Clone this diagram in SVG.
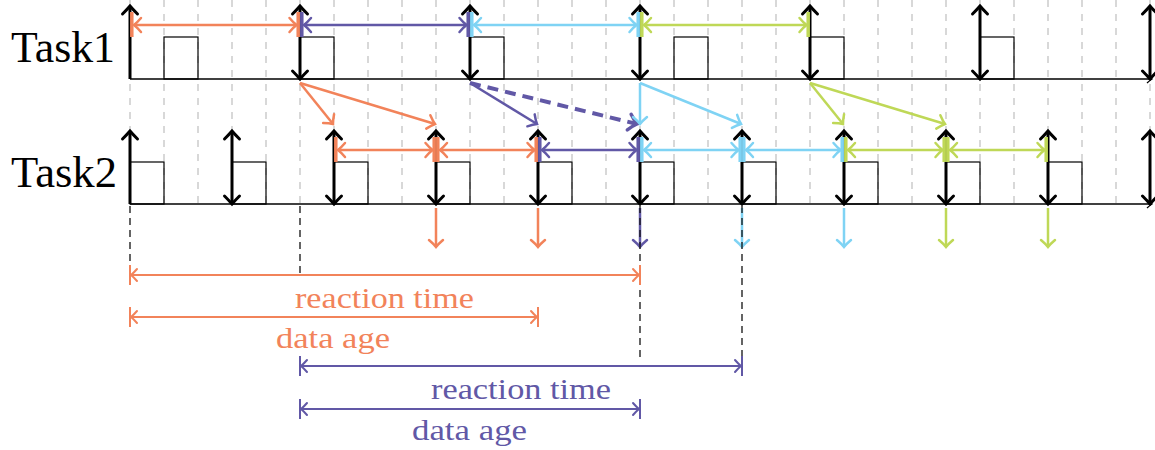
<svg xmlns="http://www.w3.org/2000/svg" width="1155" height="450" viewBox="0 0 1155 450">
  <defs>
    <style>
      .grid { stroke: #c4c4c4; stroke-width: 1.3; stroke-dasharray: 7 7; fill: none; }
      .box { fill: none; stroke: #000; stroke-width: 1.2; }
      .axis { stroke: #000; stroke-width: 1.3; fill: none; }
      .tick { stroke: #000; stroke-width: 3; fill: none; }
      .guide { stroke: #111; stroke-width: 1.3; stroke-dasharray: 7 5; fill: none; }
      .or { stroke: #f2835a; }
      .pu { stroke: #6158a6; }
      .cy { stroke: #7fd3f4; }
      .gr { stroke: #bfd857; }
      .flow { stroke-width: 2.5; fill: none; }
      .bar { stroke-width: 3.5; fill: none; }
      .dim { stroke-width: 2; fill: none; }
      .lbl { font-family: "Liberation Serif", "DejaVu Serif", serif; }
      .title { font-family: "Liberation Serif", "DejaVu Serif", serif; font-size: 44px; fill: #000; }
    </style>
    <marker id="hk" markerUnits="userSpaceOnUse" viewBox="-12 -12 16 24" markerWidth="16" markerHeight="24" refX="0" refY="0" orient="auto-start-reverse" overflow="visible">
      <path d="M-8,-7.5 Q-3,-2.5 0,0 Q-3,2.5 -8,7.5" fill="none" stroke="#000" stroke-width="3" stroke-linecap="round"/>
    </marker>
    <marker id="ha" markerUnits="userSpaceOnUse" viewBox="-12 -12 16 24" markerWidth="16" markerHeight="24" refX="0" refY="0" orient="auto-start-reverse" overflow="visible">
      <path d="M-5,-4 Q-2,-1.3 0,0 Q-2,1.3 -5,4" fill="none" stroke="#000" stroke-width="1.3"/>
    </marker>
    <marker id="ho" markerUnits="userSpaceOnUse" viewBox="-12 -12 16 24" markerWidth="16" markerHeight="24" refX="0" refY="0" orient="auto-start-reverse" overflow="visible">
      <path d="M-7,-7 Q-3,-2.3 0,0 Q-3,2.3 -7,7" fill="none" stroke="#f2835a" stroke-width="2.5" stroke-linecap="round"/>
    </marker>
    <marker id="hp" markerUnits="userSpaceOnUse" viewBox="-12 -12 16 24" markerWidth="16" markerHeight="24" refX="0" refY="0" orient="auto-start-reverse" overflow="visible">
      <path d="M-7,-7 Q-3,-2.3 0,0 Q-3,2.3 -7,7" fill="none" stroke="#6158a6" stroke-width="2.5" stroke-linecap="round"/>
    </marker>
    <marker id="hc" markerUnits="userSpaceOnUse" viewBox="-12 -12 16 24" markerWidth="16" markerHeight="24" refX="0" refY="0" orient="auto-start-reverse" overflow="visible">
      <path d="M-7,-7 Q-3,-2.3 0,0 Q-3,2.3 -7,7" fill="none" stroke="#7fd3f4" stroke-width="2.5" stroke-linecap="round"/>
    </marker>
    <marker id="hg" markerUnits="userSpaceOnUse" viewBox="-12 -12 16 24" markerWidth="16" markerHeight="24" refX="0" refY="0" orient="auto-start-reverse" overflow="visible">
      <path d="M-7,-7 Q-3,-2.3 0,0 Q-3,2.3 -7,7" fill="none" stroke="#bfd857" stroke-width="2.5" stroke-linecap="round"/>
    </marker>
    <marker id="hpd" markerUnits="userSpaceOnUse" viewBox="-12 -12 16 24" markerWidth="16" markerHeight="24" refX="0" refY="0" orient="auto" overflow="visible">
      <path d="M-8,-8 Q-3.5,-2.6 0,0 Q-3.5,2.6 -8,8" fill="none" stroke="#6158a6" stroke-width="3.5" stroke-linecap="round"/>
    </marker>
    <marker id="mo" markerUnits="userSpaceOnUse" viewBox="-12 -12 16 24" markerWidth="16" markerHeight="24" refX="0" refY="0" orient="auto-start-reverse" overflow="visible">
      <path d="M-6,-6 Q-2.5,-2 0,0 Q-2.5,2 -6,6" fill="none" stroke="#f2835a" stroke-width="2" stroke-linecap="round"/>
    </marker>
    <marker id="mp" markerUnits="userSpaceOnUse" viewBox="-12 -12 16 24" markerWidth="16" markerHeight="24" refX="0" refY="0" orient="auto-start-reverse" overflow="visible">
      <path d="M-6,-6 Q-2.5,-2 0,0 Q-2.5,2 -6,6" fill="none" stroke="#6158a6" stroke-width="2" stroke-linecap="round"/>
    </marker>
  </defs>

  <rect width="1155" height="450" fill="#fff"/>

  <!-- time grid, one line every 34 px -->
  <path class="grid" d="M130,0V204 M164,0V204 M198,0V204 M232,0V204 M266,0V204 M300,0V204 M334,0V204 M368,0V204 M402,0V204 M436,0V204 M470,0V204 M504,0V204 M538,0V204 M572,0V204 M606,0V204 M640,0V204 M674,0V204 M708,0V204 M742,0V204 M776,0V204 M810,0V204 M844,0V204 M878,0V204 M912,0V204 M946,0V204 M980,0V204 M1014,0V204 M1048,0V204 M1082,0V204 M1116,0V204 M1150,0V204"/>

  <!-- Task1: period 170, execution 34 -->
  <g id="task1">
    <text class="title" x="11" y="62" textLength="104" lengthAdjust="spacingAndGlyphs">Task1</text>
    <line class="axis" x1="130" y1="79" x2="1152" y2="79" marker-end="url(#ha)"/>
    <rect class="box" x="164" y="37" width="34" height="42"/>
    <rect class="box" x="300" y="37" width="34" height="42"/>
    <rect class="box" x="470" y="37" width="34" height="42"/>
    <rect class="box" x="674" y="37" width="34" height="42"/>
    <rect class="box" x="810" y="37" width="34" height="42"/>
    <rect class="box" x="980" y="37" width="34" height="42"/>
    <line class="tick" x1="130" y1="79" x2="130" y2="6" marker-end="url(#hk)"/>
    <line class="tick" x1="300" y1="79" x2="300" y2="6" marker-start="url(#hk)" marker-end="url(#hk)"/>
    <line class="tick" x1="470" y1="79" x2="470" y2="6" marker-start="url(#hk)" marker-end="url(#hk)"/>
    <line class="tick" x1="640" y1="79" x2="640" y2="6" marker-start="url(#hk)" marker-end="url(#hk)"/>
    <line class="tick" x1="810" y1="79" x2="810" y2="6" marker-start="url(#hk)" marker-end="url(#hk)"/>
    <line class="tick" x1="980" y1="79" x2="980" y2="6" marker-start="url(#hk)" marker-end="url(#hk)"/>
    <line class="tick" x1="1150" y1="79" x2="1150" y2="6" marker-start="url(#hk)" marker-end="url(#hk)"/>
    <!-- period spans -->
    <line class="bar or" x1="131.8" y1="12" x2="131.8" y2="37"/>
    <line class="bar or" x1="298.2" y1="12" x2="298.2" y2="37"/>
    <line class="flow or" x1="134" y1="25" x2="296.5" y2="25" marker-start="url(#ho)" marker-end="url(#ho)"/>
    <line class="bar pu" x1="301.8" y1="12" x2="301.8" y2="37"/>
    <line class="bar pu" x1="468.2" y1="12" x2="468.2" y2="37"/>
    <line class="flow pu" x1="304" y1="25" x2="466.5" y2="25" marker-start="url(#hp)" marker-end="url(#hp)"/>
    <line class="bar cy" x1="471.8" y1="12" x2="471.8" y2="37"/>
    <line class="bar cy" x1="638.2" y1="12" x2="638.2" y2="37"/>
    <line class="flow cy" x1="474" y1="25" x2="636.5" y2="25" marker-start="url(#hc)" marker-end="url(#hc)"/>
    <line class="bar gr" x1="641.8" y1="12" x2="641.8" y2="37"/>
    <line class="bar gr" x1="808.2" y1="12" x2="808.2" y2="37"/>
    <line class="flow gr" x1="644" y1="25" x2="806.5" y2="25" marker-start="url(#hg)" marker-end="url(#hg)"/>
  </g>

  <!-- Task2: period 102, execution 34 -->
  <g id="task2">
    <text class="title" x="11" y="187" textLength="106" lengthAdjust="spacingAndGlyphs">Task2</text>
    <line class="axis" x1="130" y1="204" x2="1152" y2="204" marker-end="url(#ha)"/>
    <rect class="box" x="130" y="162" width="34" height="42"/>
    <rect class="box" x="232" y="162" width="34" height="42"/>
    <rect class="box" x="334" y="162" width="34" height="42"/>
    <rect class="box" x="436" y="162" width="34" height="42"/>
    <rect class="box" x="538" y="162" width="34" height="42"/>
    <rect class="box" x="640" y="162" width="34" height="42"/>
    <rect class="box" x="742" y="162" width="34" height="42"/>
    <rect class="box" x="844" y="162" width="34" height="42"/>
    <rect class="box" x="946" y="162" width="34" height="42"/>
    <rect class="box" x="1048" y="162" width="34" height="42"/>
    <line class="tick" x1="130" y1="204" x2="130" y2="131" marker-end="url(#hk)"/>
    <line class="tick" x1="232" y1="204" x2="232" y2="131" marker-start="url(#hk)" marker-end="url(#hk)"/>
    <line class="tick" x1="334" y1="204" x2="334" y2="131" marker-start="url(#hk)" marker-end="url(#hk)"/>
    <line class="tick" x1="436" y1="204" x2="436" y2="131" marker-start="url(#hk)" marker-end="url(#hk)"/>
    <line class="tick" x1="538" y1="204" x2="538" y2="131" marker-start="url(#hk)" marker-end="url(#hk)"/>
    <line class="tick" x1="640" y1="204" x2="640" y2="131" marker-start="url(#hk)" marker-end="url(#hk)"/>
    <line class="tick" x1="742" y1="204" x2="742" y2="131" marker-start="url(#hk)" marker-end="url(#hk)"/>
    <line class="tick" x1="844" y1="204" x2="844" y2="131" marker-start="url(#hk)" marker-end="url(#hk)"/>
    <line class="tick" x1="946" y1="204" x2="946" y2="131" marker-start="url(#hk)" marker-end="url(#hk)"/>
    <line class="tick" x1="1048" y1="204" x2="1048" y2="131" marker-start="url(#hk)" marker-end="url(#hk)"/>
    <line class="tick" x1="1150" y1="204" x2="1150" y2="131" marker-start="url(#hk)" marker-end="url(#hk)"/>
    <!-- period spans -->
    <line class="bar or" x1="335.8" y1="137" x2="335.8" y2="162"/>
    <line class="bar or" x1="434.2" y1="137" x2="434.2" y2="162"/>
    <line class="flow or" x1="338" y1="150" x2="432.5" y2="150" marker-start="url(#ho)" marker-end="url(#ho)"/>
    <line class="bar or" x1="437.8" y1="137" x2="437.8" y2="162"/>
    <line class="bar or" x1="536.2" y1="137" x2="536.2" y2="162"/>
    <line class="flow or" x1="440" y1="150" x2="534.5" y2="150" marker-start="url(#ho)" marker-end="url(#ho)"/>
    <line class="bar pu" x1="539.8" y1="137" x2="539.8" y2="162"/>
    <line class="bar pu" x1="638.2" y1="137" x2="638.2" y2="162"/>
    <line class="flow pu" x1="542" y1="150" x2="636.5" y2="150" marker-start="url(#hp)" marker-end="url(#hp)"/>
    <line class="bar cy" x1="641.8" y1="137" x2="641.8" y2="162"/>
    <line class="bar cy" x1="740.2" y1="137" x2="740.2" y2="162"/>
    <line class="flow cy" x1="644" y1="150" x2="738.5" y2="150" marker-start="url(#hc)" marker-end="url(#hc)"/>
    <line class="bar cy" x1="743.8" y1="137" x2="743.8" y2="162"/>
    <line class="bar cy" x1="842.2" y1="137" x2="842.2" y2="162"/>
    <line class="flow cy" x1="746" y1="150" x2="840.5" y2="150" marker-start="url(#hc)" marker-end="url(#hc)"/>
    <line class="bar gr" x1="845.8" y1="137" x2="845.8" y2="162"/>
    <line class="bar gr" x1="944.2" y1="137" x2="944.2" y2="162"/>
    <line class="flow gr" x1="848" y1="150" x2="942.5" y2="150" marker-start="url(#hg)" marker-end="url(#hg)"/>
    <line class="bar gr" x1="947.8" y1="137" x2="947.8" y2="162"/>
    <line class="bar gr" x1="1046.2" y1="137" x2="1046.2" y2="162"/>
    <line class="flow gr" x1="950" y1="150" x2="1044.5" y2="150" marker-start="url(#hg)" marker-end="url(#hg)"/>
  </g>

  <!-- data passed from Task1 to Task2, and Task2 outputs -->
  <g id="connectors">
    <line class="flow or" x1="300" y1="83" x2="333" y2="124" marker-end="url(#ho)"/>
    <line class="flow or" x1="300" y1="83" x2="435" y2="124" marker-end="url(#ho)"/>
    <line class="flow pu" x1="470" y1="83" x2="537" y2="124" marker-end="url(#hp)"/>
    <line class="pu" x1="470" y1="83" x2="637" y2="124" stroke-width="4" stroke-dasharray="11 7" fill="none" marker-end="url(#hpd)"/>
    <line class="flow cy" x1="640" y1="83" x2="640" y2="124" marker-end="url(#hc)"/>
    <line class="flow cy" x1="640" y1="83" x2="741" y2="124" marker-end="url(#hc)"/>
    <line class="flow gr" x1="810" y1="83" x2="843" y2="124" marker-end="url(#hg)"/>
    <line class="flow gr" x1="810" y1="83" x2="945" y2="124" marker-end="url(#hg)"/>

    <line class="flow or" x1="436" y1="208" x2="436" y2="247" marker-end="url(#ho)"/>
    <line class="flow or" x1="538" y1="208" x2="538" y2="247" marker-end="url(#ho)"/>
    <line class="flow pu" x1="640" y1="208" x2="640" y2="247" marker-end="url(#hp)"/>
    <line class="flow cy" x1="742" y1="208" x2="742" y2="247" marker-end="url(#hc)"/>
    <line class="flow cy" x1="844" y1="208" x2="844" y2="247" marker-end="url(#hc)"/>
    <line class="flow gr" x1="946" y1="208" x2="946" y2="247" marker-end="url(#hg)"/>
    <line class="flow gr" x1="1048" y1="208" x2="1048" y2="247" marker-end="url(#hg)"/>

    <path class="guide" d="M130,206V274 M300,206V274 M640,206V362 M742,206V368"/>
  </g>

  <!-- latency measures -->
  <g id="measures">
    <path class="dim or" d="M130,265V285 M640,265V285"/>
    <line class="dim or" x1="131" y1="275" x2="639" y2="275" marker-start="url(#mo)" marker-end="url(#mo)"/>
    <text class="lbl" x="295" y="308" font-size="30" fill="#f2835a" textLength="179" lengthAdjust="spacingAndGlyphs">reaction time</text>

    <path class="dim or" d="M130,307V327 M538,307V327"/>
    <line class="dim or" x1="131" y1="317" x2="537" y2="317" marker-start="url(#mo)" marker-end="url(#mo)"/>
    <text class="lbl" x="276" y="348" font-size="30" fill="#f2835a" textLength="114" lengthAdjust="spacingAndGlyphs">data age</text>

    <path class="dim pu" d="M300,356V376 M742,356V376"/>
    <line class="dim pu" x1="301" y1="366" x2="741" y2="366" marker-start="url(#mp)" marker-end="url(#mp)"/>
    <text class="lbl" x="431" y="399" font-size="30" fill="#6158a6" textLength="180" lengthAdjust="spacingAndGlyphs">reaction time</text>

    <path class="dim pu" d="M300,399V419 M640,399V419"/>
    <line class="dim pu" x1="301" y1="409" x2="639" y2="409" marker-start="url(#mp)" marker-end="url(#mp)"/>
    <text class="lbl" x="412" y="440" font-size="30" fill="#6158a6" textLength="115" lengthAdjust="spacingAndGlyphs">data age</text>
  </g>
</svg>
